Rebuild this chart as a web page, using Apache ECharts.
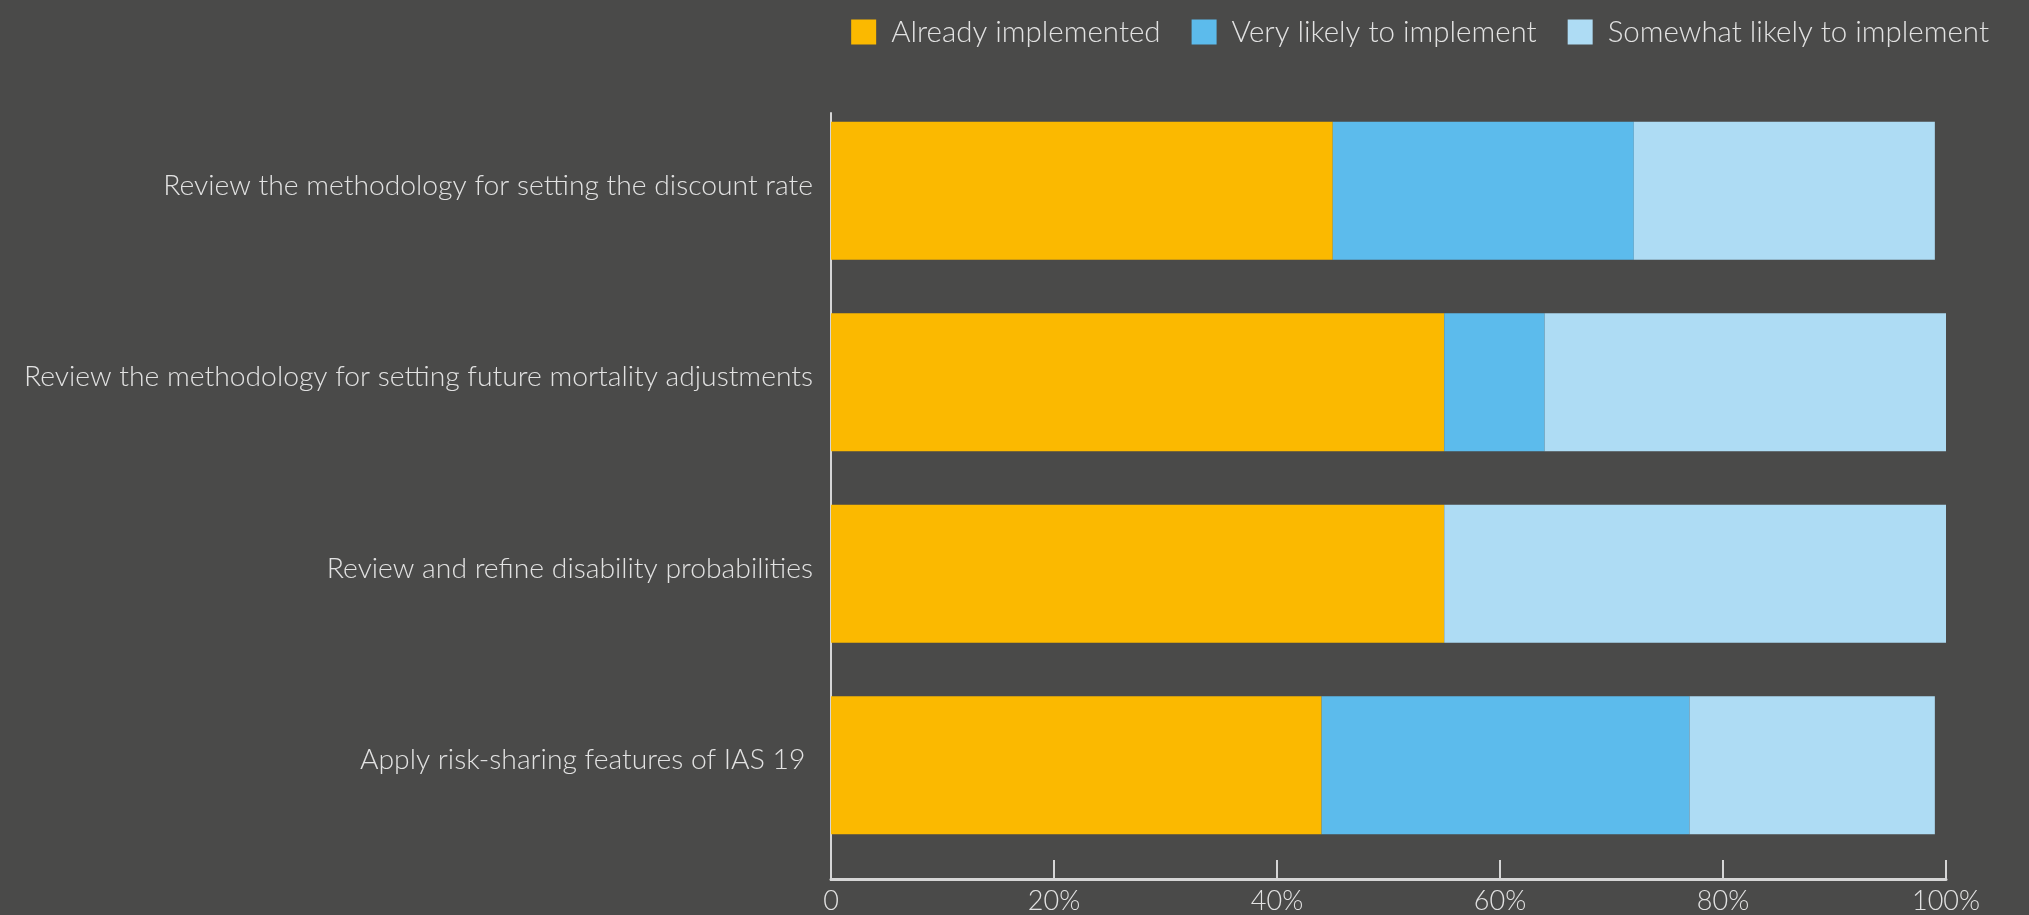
<!DOCTYPE html>
<html>
<head>
<meta charset="utf-8">
<script src="https://cdn.jsdelivr.net/npm/echarts@6/dist/echarts.min.js"></script>
<style>
html,body{margin:0;padding:0;background:#4a4a49;}
#chart{width:2029px;height:915px;}
</style>
</head>
<body>
<div id="chart"></div>
<script>
const categories = [
  "Review the methodology for setting the discount rate",
  "Review the methodology for setting future mortality adjustments",
  "Review and refine disability probabilities",
  "Apply risk-sharing features of IAS 19 "
];
const seriesNames = ["Already implemented", "Very likely to implement", "Somewhat likely to implement"];
const alreadyImplemented = [45, 55, 55, 44];
const veryLikely = [27, 9, 0, 33];
const somewhatLikely = [27, 36, 45, 22];
const xTicks = [0, 20, 40, 60, 80, 100];
const colors = ["#fbb900", "#5cbbec", "#aedcf4"];

const FONT = "Lato";
const TXT = "#e2e2e2";
const chart = echarts.init(document.getElementById('chart'));
const values = [alreadyImplemented, veryLikely, somewhatLikely];

chart.setOption({
  backgroundColor: "#4a4a49",
  animation: false,
  color: colors,
  legend: {
    top: 12,
    right: 35,
    itemWidth: 25,
    itemHeight: 25,
    itemGap: 31,
    icon: "rect",
    data: seriesNames,
    textStyle: { color: TXT, fontFamily: FONT, fontWeight: 300, fontSize: 29.5, padding: [0, 0, 0, 10] }
  },
  grid: [
    { left: 831, right: 83, top: 95, bottom: 53 },
    { left: 831, right: 83, top: 113, bottom: 35 }
  ],
  xAxis: [
    {
      type: "value", gridIndex: 0, min: 0, max: 100, interval: 20,
      offset: 18,
      axisLine: { show: true, lineStyle: { color: "#d6d6d6", width: 3 } },
      axisTick: { show: true, inside: true, length: 19, lineStyle: { color: "#d6d6d6", width: 2 } },
      splitLine: { show: false },
      axisLabel: {
        color: TXT, fontFamily: FONT, fontWeight: 300, fontSize: 27, margin: 9,
        formatter: function (v) { return xTicks.indexOf(v) >= 0 ? (v === 0 ? "0" : v + "%") : ""; }
      }
    },
    { type: "value", gridIndex: 1, min: 0, max: 100, show: false }
  ],
  yAxis: [
    {
      type: "category", gridIndex: 0, data: categories, inverse: true,
      axisLine: { show: false }, axisTick: { show: false },
      axisLabel: {
        margin: 18,
        formatter: function (v) { return "{c|" + v + "}"; },
        rich: { c: { color: TXT, fontFamily: FONT, fontWeight: 300, fontSize: 28.3, padding: [0, 0, 10, 0] } }
      }
    },
    {
      type: "value", gridIndex: 1, min: 0, max: 1,
      axisLine: { show: true, lineStyle: { color: "#d6d6d6", width: 2 } },
      axisTick: { show: false }, axisLabel: { show: false }, splitLine: { show: false }
    }
  ],
  series: seriesNames.map((n, i) => ({
    name: n, type: "bar", stack: "total", xAxisIndex: 0, yAxisIndex: 0,
    barCategoryGap: "28%",
    data: values[i],
    itemStyle: { color: colors[i] }
  }))
});
</script>
</body>
</html>
